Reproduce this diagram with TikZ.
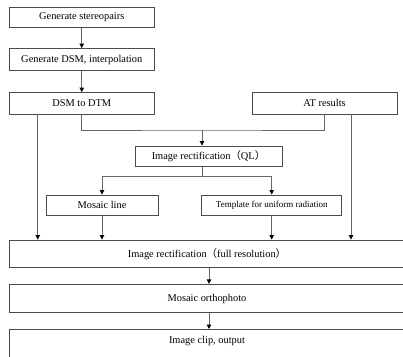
\documentclass[tikz,border=0pt]{standalone}
\usepackage{fontspec}
\setmainfont{Liberation Serif}
\newfontfamily\cjk{Noto Sans CJK SC}
\usetikzlibrary{arrows.meta}
\begin{document}
\begin{tikzpicture}[x=1pt,y=-1pt,
  stepbox/.style={draw=black!70, line width=0.9pt, inner sep=0pt, font=\fontsize{10.4}{12}\selectfont},
  link/.style={draw=black!60, line width=0.9pt},
  arr/.style={link, -{Triangle[length=4.5pt,width=4.5pt,color=black]}}]

\def\lp{{\cjk （}}
\def\rp{{\cjk ）}}

\clip (0,0) rectangle (403,356);
\fill[white] (0,0) rectangle (403,356);

 \node[stepbox, minimum width=144.5pt, minimum height=20pt] (pairs) at (81.75,17.4) {Generate stereopairs};
 \node[stepbox, minimum width=144.5pt, minimum height=22pt] (dsm) at (81.75,59.5) {Generate DSM, interpolation};
 \node[stepbox, minimum width=144.5pt, minimum height=21.5pt] (dtm) at (81.75,103.25) {DSM to DTM};
 \node[stepbox, minimum width=145pt, minimum height=21.5pt] (at) at (324.5,103.25) {AT results};
 \node[stepbox, minimum width=147pt, minimum height=20.5pt] (ql) at (208.5,156.25) {Image rectification\lp QL\rp};
 \node[stepbox, minimum width=112pt, minimum height=20.5pt] (mosline) at (102,205.25) {Mosaic line};
 \node[stepbox, minimum width=140pt, minimum height=20.5pt, font=\fontsize{9}{11}\selectfont] (tmpl) at (271.7,205.25) {Template for uniform radiation};
 \node[stepbox, minimum width=395pt, minimum height=27.5pt] (full) at (207,253.75) {Image rectification\lp full resolution\rp};
 \node[stepbox, minimum width=395pt, minimum height=28.4pt] (ortho) at (207,298.5) {Mosaic orthophoto};
 \node[stepbox, minimum width=395pt, minimum height=30pt, anchor=north] (clip) at (207,329) {};
 \node[font=\fontsize{10.4}{12}\selectfont] (cliptext) at (207,341) {Image clip, output};

 \coordinate (join) at (202,130);
 \coordinate (split) at (202,176.7);

 \draw[arr] (pairs) -- (dsm);
 \draw[arr] (dsm) -- (dtm);
 \draw[link] (dtm.south) |- (join) -| (at.south);
 \draw[arr] (join) -- (join |- ql.north);
 \draw[link] (split |- ql.south) -- (split);
 \draw[arr] (split) -| (mosline);
 \draw[arr] (split) -| (tmpl);
 \draw[arr] (mosline) -- (mosline |- full.north);
 \draw[arr] (tmpl) -- (tmpl |- full.north);
 \draw[arr] ([xshift=-44pt]dtm.south) -- ([xshift=-44pt]dtm.south |- full.north);
 \draw[arr] ([xshift=26.5pt]at.south) -- ([xshift=26.5pt]at.south |- full.north);
 \draw[arr] ([xshift=2pt]full.south) -- ([xshift=2pt]ortho.north);
 \draw[arr] ([xshift=2pt]ortho.south) -- ([xshift=2pt]clip.north);
\end{tikzpicture}
\end{document}
